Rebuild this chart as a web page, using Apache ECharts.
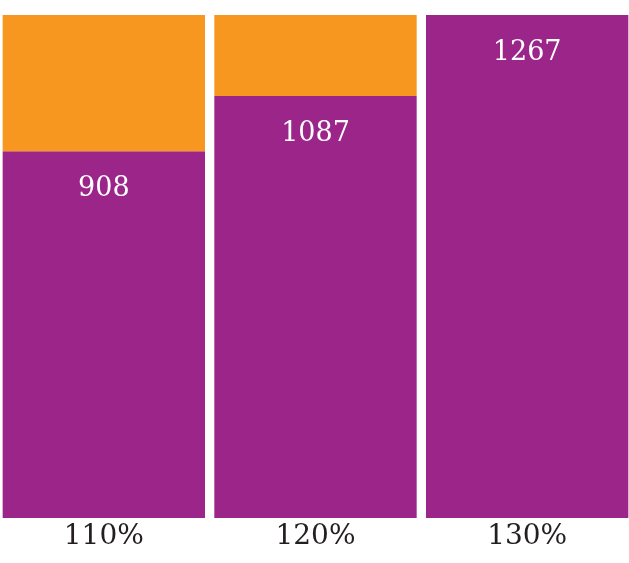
<!DOCTYPE html>
<html>
<head>
<meta charset="utf-8">
<style>
html,body{margin:0;padding:0;background:#fff;}
#chart{width:629px;height:563px;}
</style>
<script src="https://cdn.jsdelivr.net/npm/echarts@6/dist/echarts.min.js"></script>
</head>
<body>
<div id="chart"></div>
<script>
const categories = ['110%', '120%', '130%'];
const purpleValues = [908, 1087, 1267];
const orangeValues = [337, 209, 0];

const totals = purpleValues.map((v, i) => v + orangeValues[i]);
const purpleShare = purpleValues.map((v, i) => ({ value: v / totals[i] * 100, raw: v }));
const orangeShare = orangeValues.map((v, i) => v / totals[i] * 100);

const chart = echarts.init(document.getElementById('chart'));
chart.setOption({
  animation: false,
  grid: { left: -2, width: 635, top: 15, bottom: 45, outerBoundsMode: 'none', containLabel: false },
  xAxis: {
    type: 'category',
    data: categories,
    axisLine: { show: false },
    axisTick: { show: false },
    axisLabel: { color: '#231f20', fontFamily: 'DejaVu Serif', fontSize: 28, margin: 5 }
  },
  yAxis: {
    type: 'value',
    min: 0,
    max: 100,
    show: false,
    splitLine: { show: false }
  },
  series: [
    {
      type: 'bar',
      stack: 'a',
      data: purpleShare,
      barCategoryGap: '4.4%',
      itemStyle: { color: '#9c258a' },
      label: {
        show: true,
        position: 'insideTop',
        distance: 24,
        color: '#ffffff',
        fontFamily: 'DejaVu Serif',
        fontSize: 27,
        formatter: p => p.data.raw
      }
    },
    {
      type: 'bar',
      stack: 'a',
      data: orangeShare,
      barCategoryGap: '4.4%',
      itemStyle: { color: '#f8971f' }
    }
  ]
});
</script>
</body>
</html>
